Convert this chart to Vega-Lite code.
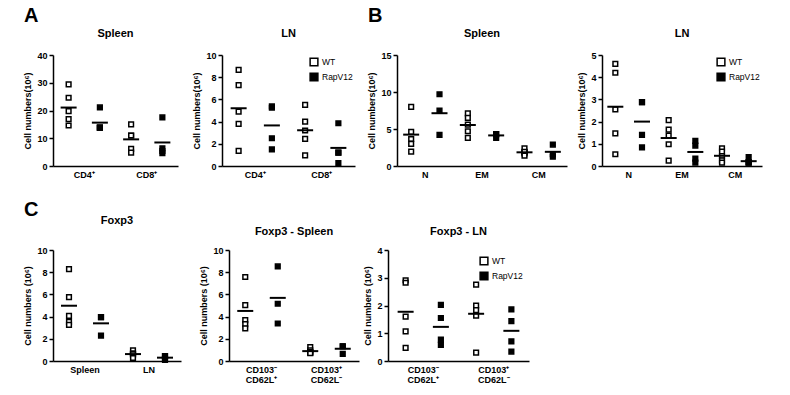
{
  "$schema": "https://vega.github.io/schema/vega-lite/v6.json",
  "padding": {"left": 23, "top": 6, "right": 5, "bottom": 0},
  "background": "white",
  "datasets": {
    "aspleen": [
      {"c": "CD4⁺", "g": "WT", "v": 29.4}, {"c": "CD4⁺", "g": "WT", "v": 24.6}, {"c": "CD4⁺", "g": "WT", "v": 19.8}, {"c": "CD4⁺", "g": "WT", "v": 16.9}, {"c": "CD4⁺", "g": "WT", "v": 14.6},
      {"c": "CD4⁺", "g": "RapV12", "v": 21.1}, {"c": "CD4⁺", "g": "RapV12", "v": 13.8}, {"c": "CD4⁺", "g": "RapV12", "v": 13.8}, {"c": "CD4⁺", "g": "RapV12", "v": 13.8},
      {"c": "CD8⁺", "g": "WT", "v": 15.0}, {"c": "CD8⁺", "g": "WT", "v": 11.0}, {"c": "CD8⁺", "g": "WT", "v": 11.0}, {"c": "CD8⁺", "g": "WT", "v": 6.2}, {"c": "CD8⁺", "g": "WT", "v": 4.8},
      {"c": "CD8⁺", "g": "RapV12", "v": 17.5}, {"c": "CD8⁺", "g": "RapV12", "v": 6.4}, {"c": "CD8⁺", "g": "RapV12", "v": 4.6}, {"c": "CD8⁺", "g": "RapV12", "v": 5.4}
    ],
    "aln": [
      {"c": "CD4⁺", "g": "WT", "v": 8.66}, {"c": "CD4⁺", "g": "WT", "v": 7.28}, {"c": "CD4⁺", "g": "WT", "v": 4.9}, {"c": "CD4⁺", "g": "WT", "v": 3.8}, {"c": "CD4⁺", "g": "WT", "v": 1.37},
      {"c": "CD4⁺", "g": "RapV12", "v": 5.25}, {"c": "CD4⁺", "g": "RapV12", "v": 5.37}, {"c": "CD4⁺", "g": "RapV12", "v": 2.5}, {"c": "CD4⁺", "g": "RapV12", "v": 1.5},
      {"c": "CD8⁺", "g": "WT", "v": 5.5}, {"c": "CD8⁺", "g": "WT", "v": 4.0}, {"c": "CD8⁺", "g": "WT", "v": 3.2}, {"c": "CD8⁺", "g": "WT", "v": 2.45}, {"c": "CD8⁺", "g": "WT", "v": 0.95},
      {"c": "CD8⁺", "g": "RapV12", "v": 3.85}, {"c": "CD8⁺", "g": "RapV12", "v": 1.2}, {"c": "CD8⁺", "g": "RapV12", "v": 1.2}, {"c": "CD8⁺", "g": "RapV12", "v": 0.27}
    ],
    "bspleen": [
      {"c": "N", "g": "WT", "v": 8.0}, {"c": "N", "g": "WT", "v": 4.6}, {"c": "N", "g": "WT", "v": 3.65}, {"c": "N", "g": "WT", "v": 3.0}, {"c": "N", "g": "WT", "v": 1.95},
      {"c": "N", "g": "RapV12", "v": 9.7}, {"c": "N", "g": "RapV12", "v": 7.5}, {"c": "N", "g": "RapV12", "v": 4.2},
      {"c": "EM", "g": "WT", "v": 7.1}, {"c": "EM", "g": "WT", "v": 6.5}, {"c": "EM", "g": "WT", "v": 5.6}, {"c": "EM", "g": "WT", "v": 4.7}, {"c": "EM", "g": "WT", "v": 3.8},
      {"c": "EM", "g": "RapV12", "v": 4.3}, {"c": "EM", "g": "RapV12", "v": 3.8}, {"c": "EM", "g": "RapV12", "v": 4.3},
      {"c": "CM", "g": "WT", "v": 1.85}, {"c": "CM", "g": "WT", "v": 2.4}, {"c": "CM", "g": "WT", "v": 1.7}, {"c": "CM", "g": "WT", "v": 1.9}, {"c": "CM", "g": "WT", "v": 1.4},
      {"c": "CM", "g": "RapV12", "v": 2.9}, {"c": "CM", "g": "RapV12", "v": 1.25}, {"c": "CM", "g": "RapV12", "v": 1.6}
    ],
    "bln": [
      {"c": "N", "g": "WT", "v": 4.6}, {"c": "N", "g": "WT", "v": 4.2}, {"c": "N", "g": "WT", "v": 2.55}, {"c": "N", "g": "WT", "v": 1.47}, {"c": "N", "g": "WT", "v": 0.53},
      {"c": "N", "g": "RapV12", "v": 2.88}, {"c": "N", "g": "RapV12", "v": 2.88}, {"c": "N", "g": "RapV12", "v": 1.4}, {"c": "N", "g": "RapV12", "v": 0.84},
      {"c": "EM", "g": "WT", "v": 2.07}, {"c": "EM", "g": "WT", "v": 1.64}, {"c": "EM", "g": "WT", "v": 1.37}, {"c": "EM", "g": "WT", "v": 0.98}, {"c": "EM", "g": "WT", "v": 0.24},
      {"c": "EM", "g": "RapV12", "v": 1.13}, {"c": "EM", "g": "RapV12", "v": 0.92}, {"c": "EM", "g": "RapV12", "v": 0.33}, {"c": "EM", "g": "RapV12", "v": 0.15},
      {"c": "CM", "g": "WT", "v": 0.8}, {"c": "CM", "g": "WT", "v": 0.65}, {"c": "CM", "g": "WT", "v": 0.45}, {"c": "CM", "g": "WT", "v": 0.25}, {"c": "CM", "g": "WT", "v": 0.15},
      {"c": "CM", "g": "RapV12", "v": 0.4}, {"c": "CM", "g": "RapV12", "v": 0.17}, {"c": "CM", "g": "RapV12", "v": 0.15}, {"c": "CM", "g": "RapV12", "v": 0.15}
    ],
    "cfoxp3": [
      {"c": "Spleen", "g": "WT", "v": 8.28}, {"c": "Spleen", "g": "WT", "v": 5.76}, {"c": "Spleen", "g": "WT", "v": 4.07}, {"c": "Spleen", "g": "WT", "v": 3.53}, {"c": "Spleen", "g": "WT", "v": 3.26},
      {"c": "Spleen", "g": "RapV12", "v": 3.95}, {"c": "Spleen", "g": "RapV12", "v": 3.95}, {"c": "Spleen", "g": "RapV12", "v": 2.28},
      {"c": "LN", "g": "WT", "v": 0.95}, {"c": "LN", "g": "WT", "v": 0.7}, {"c": "LN", "g": "WT", "v": 0.6}, {"c": "LN", "g": "WT", "v": 0.6}, {"c": "LN", "g": "WT", "v": 0.27},
      {"c": "LN", "g": "RapV12", "v": 0.45}, {"c": "LN", "g": "RapV12", "v": 0.45}, {"c": "LN", "g": "RapV12", "v": 0.2}, {"c": "LN", "g": "RapV12", "v": 0.1}
    ],
    "cspleen": [
      {"c": "CD103⁻ CD62L⁺", "g": "WT", "v": 7.57}, {"c": "CD103⁻ CD62L⁺", "g": "WT", "v": 5.04}, {"c": "CD103⁻ CD62L⁺", "g": "WT", "v": 3.68}, {"c": "CD103⁻ CD62L⁺", "g": "WT", "v": 3.32}, {"c": "CD103⁻ CD62L⁺", "g": "WT", "v": 2.94},
      {"c": "CD103⁻ CD62L⁺", "g": "RapV12", "v": 8.52}, {"c": "CD103⁻ CD62L⁺", "g": "RapV12", "v": 5.16}, {"c": "CD103⁻ CD62L⁺", "g": "RapV12", "v": 3.38},
      {"c": "CD103⁺ CD62L⁻", "g": "WT", "v": 1.25}, {"c": "CD103⁺ CD62L⁻", "g": "WT", "v": 0.95}, {"c": "CD103⁺ CD62L⁻", "g": "WT", "v": 0.8}, {"c": "CD103⁺ CD62L⁻", "g": "WT", "v": 0.75}, {"c": "CD103⁺ CD62L⁻", "g": "WT", "v": 0.7},
      {"c": "CD103⁺ CD62L⁻", "g": "RapV12", "v": 1.33}, {"c": "CD103⁺ CD62L⁻", "g": "RapV12", "v": 1.33}, {"c": "CD103⁺ CD62L⁻", "g": "RapV12", "v": 0.65}
    ],
    "cln": [
      {"c": "CD103⁻ CD62L⁺", "g": "WT", "v": 2.91}, {"c": "CD103⁻ CD62L⁺", "g": "WT", "v": 2.82}, {"c": "CD103⁻ CD62L⁺", "g": "WT", "v": 1.6}, {"c": "CD103⁻ CD62L⁺", "g": "WT", "v": 1.07}, {"c": "CD103⁻ CD62L⁺", "g": "WT", "v": 0.47},
      {"c": "CD103⁻ CD62L⁺", "g": "RapV12", "v": 2.02}, {"c": "CD103⁻ CD62L⁺", "g": "RapV12", "v": 1.55}, {"c": "CD103⁻ CD62L⁺", "g": "RapV12", "v": 0.77}, {"c": "CD103⁻ CD62L⁺", "g": "RapV12", "v": 0.58},
      {"c": "CD103⁺ CD62L⁻", "g": "WT", "v": 2.75}, {"c": "CD103⁺ CD62L⁻", "g": "WT", "v": 2.0}, {"c": "CD103⁺ CD62L⁻", "g": "WT", "v": 1.83}, {"c": "CD103⁺ CD62L⁻", "g": "WT", "v": 1.63}, {"c": "CD103⁺ CD62L⁻", "g": "WT", "v": 0.3},
      {"c": "CD103⁺ CD62L⁻", "g": "RapV12", "v": 1.86}, {"c": "CD103⁺ CD62L⁻", "g": "RapV12", "v": 1.44}, {"c": "CD103⁺ CD62L⁻", "g": "RapV12", "v": 0.71}, {"c": "CD103⁺ CD62L⁻", "g": "RapV12", "v": 0.34}
    ]
  },
  "vconcat": [
    {
      "hconcat": [
        {
          "title": {"text": "A", "anchor": "start", "fontSize": 20, "offset": 2, "frame": "bounds"},
          "spacing": 14,
          "hconcat": [
            {
              "width": 125, "height": 111,
              "title": "Spleen",
              "data": {"name": "aspleen"},
              "layer": [
                {"mark": {"type": "point", "shape": "square", "filled": true, "size": 22, "stroke": "black", "strokeWidth": 1.5, "opacity": 1},
                 "encoding": {
                   "x": {"field": "c", "type": "nominal", "sort": null, "scale": {"paddingInner": 0, "paddingOuter": 0}},
                   "xOffset": {"field": "g", "type": "nominal", "sort": ["WT", "RapV12"]},
                   "y": {"field": "v", "type": "quantitative", "scale": {"domain": [0, 40], "nice": false}, "axis": {"values": [0, 10, 20, 30, 40], "title": "Cell numbers(10⁶)"}},
                   "fill": {"field": "g", "type": "nominal", "scale": {"domain": ["WT", "RapV12"], "range": ["white", "black"]}, "legend": null}
                 }},
                {"mark": {"type": "tick", "color": "black", "thickness": 2, "size": 16},
                 "encoding": {
                   "x": {"field": "c", "type": "nominal", "sort": null},
                   "xOffset": {"field": "g", "type": "nominal", "sort": ["WT", "RapV12"]},
                   "y": {"aggregate": "mean", "field": "v", "type": "quantitative", "axis": {"values": [0, 10, 20, 30, 40], "title": "Cell numbers(10⁶)"}}
                 }}
              ]
            },
            {
              "width": 133, "height": 111,
              "title": "LN",
              "data": {"name": "aln"},
              "layer": [
                {"mark": {"type": "point", "shape": "square", "filled": true, "size": 22, "stroke": "black", "strokeWidth": 1.5, "opacity": 1},
                 "encoding": {
                   "x": {"field": "c", "type": "nominal", "sort": null, "scale": {"paddingInner": 0, "paddingOuter": 0}},
                   "xOffset": {"field": "g", "type": "nominal", "sort": ["WT", "RapV12"]},
                   "y": {"field": "v", "type": "quantitative", "scale": {"domain": [0, 10], "nice": false}, "axis": {"values": [0, 2, 4, 6, 8, 10], "title": "Cell numbers(10⁶)"}},
                   "fill": {"field": "g", "type": "nominal", "scale": {"domain": ["WT", "RapV12"], "range": ["white", "black"]},
                     "legend": {"orient": "top-right", "title": null, "symbolType": "square", "symbolSize": 60, "symbolStrokeColor": "black", "symbolStrokeWidth": 1.5, "labelFontSize": 8.5, "labelOffset": 3, "offset": 2, "padding": 0, "rowPadding": 1}}
                 }},
                {"mark": {"type": "tick", "color": "black", "thickness": 2, "size": 16},
                 "encoding": {
                   "x": {"field": "c", "type": "nominal", "sort": null},
                   "xOffset": {"field": "g", "type": "nominal", "sort": ["WT", "RapV12"]},
                   "y": {"aggregate": "mean", "field": "v", "type": "quantitative", "axis": {"values": [0, 2, 4, 6, 8, 10], "title": "Cell numbers(10⁶)"}}
                 }}
              ]
            }
          ],
          "resolve": {"scale": {"x": "independent", "y": "independent", "xOffset": "independent", "fill": "independent"}, "legend": {"fill": "independent"}}
        },
        {
          "title": {"text": "B", "anchor": "start", "fontSize": 20, "offset": 2, "frame": "bounds"},
          "spacing": 10,
          "hconcat": [
            {
              "width": 170, "height": 111,
              "title": "Spleen",
              "data": {"name": "bspleen"},
              "layer": [
                {"mark": {"type": "point", "shape": "square", "filled": true, "size": 22, "stroke": "black", "strokeWidth": 1.5, "opacity": 1},
                 "encoding": {
                   "x": {"field": "c", "type": "nominal", "sort": null, "scale": {"paddingInner": 0, "paddingOuter": 0}},
                   "xOffset": {"field": "g", "type": "nominal", "sort": ["WT", "RapV12"]},
                   "y": {"field": "v", "type": "quantitative", "scale": {"domain": [0, 15], "nice": false}, "axis": {"values": [0, 5, 10, 15], "title": "Cell numbers(10⁶)"}},
                   "fill": {"field": "g", "type": "nominal", "scale": {"domain": ["WT", "RapV12"], "range": ["white", "black"]}, "legend": null}
                 }},
                {"mark": {"type": "tick", "color": "black", "thickness": 2, "size": 16},
                 "encoding": {
                   "x": {"field": "c", "type": "nominal", "sort": null},
                   "xOffset": {"field": "g", "type": "nominal", "sort": ["WT", "RapV12"]},
                   "y": {"aggregate": "mean", "field": "v", "type": "quantitative", "axis": {"values": [0, 5, 10, 15], "title": "Cell numbers(10⁶)"}}
                 }}
              ]
            },
            {
              "width": 160, "height": 111,
              "title": "LN",
              "data": {"name": "bln"},
              "layer": [
                {"mark": {"type": "point", "shape": "square", "filled": true, "size": 22, "stroke": "black", "strokeWidth": 1.5, "opacity": 1},
                 "encoding": {
                   "x": {"field": "c", "type": "nominal", "sort": null, "scale": {"paddingInner": 0, "paddingOuter": 0}},
                   "xOffset": {"field": "g", "type": "nominal", "sort": ["WT", "RapV12"]},
                   "y": {"field": "v", "type": "quantitative", "scale": {"domain": [0, 5], "nice": false}, "axis": {"values": [0, 1, 2, 3, 4, 5], "title": "Cell numbers(10⁶)"}},
                   "fill": {"field": "g", "type": "nominal", "scale": {"domain": ["WT", "RapV12"], "range": ["white", "black"]},
                     "legend": {"orient": "top-right", "title": null, "symbolType": "square", "symbolSize": 60, "symbolStrokeColor": "black", "symbolStrokeWidth": 1.5, "labelFontSize": 8.5, "labelOffset": 3, "offset": 2, "padding": 0, "rowPadding": 1}}
                 }},
                {"mark": {"type": "tick", "color": "black", "thickness": 2, "size": 16},
                 "encoding": {
                   "x": {"field": "c", "type": "nominal", "sort": null},
                   "xOffset": {"field": "g", "type": "nominal", "sort": ["WT", "RapV12"]},
                   "y": {"aggregate": "mean", "field": "v", "type": "quantitative", "axis": {"values": [0, 1, 2, 3, 4, 5], "title": "Cell numbers(10⁶)"}}
                 }}
              ]
            }
          ],
          "resolve": {"scale": {"x": "independent", "y": "independent", "xOffset": "independent", "fill": "independent"}, "legend": {"fill": "independent"}}
        }
      ],
      "spacing": 12,
      "resolve": {"scale": {"x": "independent", "y": "independent", "xOffset": "independent", "fill": "independent"}, "legend": {"fill": "independent"}}
    },
    {
      "title": {"text": "C", "anchor": "start", "fontSize": 20, "offset": -5, "frame": "bounds"},
      "spacing": 18,
      "hconcat": [
        {
          "width": 128, "height": 111,
          "title": {"text": "Foxp3", "offset": 20},
          "data": {"name": "cfoxp3"},
          "layer": [
            {"mark": {"type": "point", "shape": "square", "filled": true, "size": 22, "stroke": "black", "strokeWidth": 1.5, "opacity": 1},
             "encoding": {
               "x": {"field": "c", "type": "nominal", "sort": null, "scale": {"paddingInner": 0, "paddingOuter": 0}},
               "xOffset": {"field": "g", "type": "nominal", "sort": ["WT", "RapV12"]},
               "y": {"field": "v", "type": "quantitative", "scale": {"domain": [0, 10], "nice": false}, "axis": {"values": [0, 2, 4, 6, 8, 10], "title": "Cell numbers (10⁶)"}},
               "fill": {"field": "g", "type": "nominal", "scale": {"domain": ["WT", "RapV12"], "range": ["white", "black"]}, "legend": null}
             }},
            {"mark": {"type": "tick", "color": "black", "thickness": 2, "size": 16},
             "encoding": {
               "x": {"field": "c", "type": "nominal", "sort": null},
               "xOffset": {"field": "g", "type": "nominal", "sort": ["WT", "RapV12"]},
               "y": {"aggregate": "mean", "field": "v", "type": "quantitative", "axis": {"values": [0, 2, 4, 6, 8, 10], "title": "Cell numbers (10⁶)"}}
             }}
          ]
        },
        {
          "spacing": 4,
          "hconcat": [
            {
              "width": 130, "height": 111,
              "title": {"text": "Foxp3 - Spleen", "offset": 9},
              "data": {"name": "cspleen"},
              "layer": [
                {"mark": {"type": "point", "shape": "square", "filled": true, "size": 22, "stroke": "black", "strokeWidth": 1.5, "opacity": 1},
                 "encoding": {
                   "x": {"field": "c", "type": "nominal", "sort": null, "scale": {"paddingInner": 0, "paddingOuter": 0}, "axis": {"labelExpr": "split(datum.label, ' ')", "labelLineHeight": 10}},
                   "xOffset": {"field": "g", "type": "nominal", "sort": ["WT", "RapV12"]},
                   "y": {"field": "v", "type": "quantitative", "scale": {"domain": [0, 10], "nice": false}, "axis": {"values": [0, 2, 4, 6, 8, 10], "title": "Cell numbers (10⁶)"}},
                   "fill": {"field": "g", "type": "nominal", "scale": {"domain": ["WT", "RapV12"], "range": ["white", "black"]}, "legend": null}
                 }},
                {"mark": {"type": "tick", "color": "black", "thickness": 2, "size": 16},
                 "encoding": {
                   "x": {"field": "c", "type": "nominal", "sort": null, "axis": {"labelExpr": "split(datum.label, ' ')", "labelLineHeight": 10}},
                   "xOffset": {"field": "g", "type": "nominal", "sort": ["WT", "RapV12"]},
                   "y": {"aggregate": "mean", "field": "v", "type": "quantitative", "axis": {"values": [0, 2, 4, 6, 8, 10], "title": "Cell numbers (10⁶)"}}
                 }}
              ]
            },
            {
              "width": 141, "height": 111,
              "title": {"text": "Foxp3 - LN", "offset": 9},
              "data": {"name": "cln"},
              "layer": [
                {"mark": {"type": "point", "shape": "square", "filled": true, "size": 22, "stroke": "black", "strokeWidth": 1.5, "opacity": 1},
                 "encoding": {
                   "x": {"field": "c", "type": "nominal", "sort": null, "scale": {"paddingInner": 0, "paddingOuter": 0}, "axis": {"labelExpr": "split(datum.label, ' ')", "labelLineHeight": 10}},
                   "xOffset": {"field": "g", "type": "nominal", "sort": ["WT", "RapV12"]},
                   "y": {"field": "v", "type": "quantitative", "scale": {"domain": [0, 4], "nice": false}, "axis": {"values": [0, 1, 2, 3, 4], "title": "Cell numbers (10⁶)"}},
                   "fill": {"field": "g", "type": "nominal", "scale": {"domain": ["WT", "RapV12"], "range": ["white", "black"]},
                     "legend": {"orient": "top-right", "title": null, "symbolType": "square", "symbolSize": 60, "symbolStrokeColor": "black", "symbolStrokeWidth": 1.5, "labelFontSize": 8.5, "labelOffset": 3, "offset": 6, "padding": 0, "rowPadding": 1}}
                 }},
                {"mark": {"type": "tick", "color": "black", "thickness": 2, "size": 16},
                 "encoding": {
                   "x": {"field": "c", "type": "nominal", "sort": null, "axis": {"labelExpr": "split(datum.label, ' ')", "labelLineHeight": 10}},
                   "xOffset": {"field": "g", "type": "nominal", "sort": ["WT", "RapV12"]},
                   "y": {"aggregate": "mean", "field": "v", "type": "quantitative", "axis": {"values": [0, 1, 2, 3, 4], "title": "Cell numbers (10⁶)"}}
                 }}
              ]
            }
          ],
          "resolve": {"scale": {"x": "independent", "y": "independent", "xOffset": "independent", "fill": "independent"}, "legend": {"fill": "independent"}}
        }
      ],
      "resolve": {"scale": {"x": "independent", "y": "independent", "xOffset": "independent", "fill": "independent"}, "legend": {"fill": "independent"}}
    }
  ],
  "spacing": 21,
  "resolve": {"scale": {"x": "independent", "y": "independent", "xOffset": "independent", "fill": "independent"}, "legend": {"fill": "independent"}},
  "config": {
    "view": {"stroke": null},
    "font": "Liberation Sans",
    "axis": {"domainColor": "black", "domainWidth": 1.5, "tickColor": "black", "tickWidth": 1.5, "labelColor": "black", "labelFontWeight": "bold", "labelFontSize": 9, "titleFontSize": 9, "titleFontWeight": "bold", "titleColor": "black", "grid": false},
    "axisX": {"ticks": false, "labelAngle": 0, "labelPadding": 4, "title": null},
    "axisY": {"tickSize": 4, "labelPadding": 2, "titlePadding": 4, "labelOverlap": false},
    "title": {"fontSize": 11, "fontWeight": "bold", "color": "black", "offset": 12},
    "legend": {"labelColor": "black", "labelFontSize": 8.5}
  }
}
